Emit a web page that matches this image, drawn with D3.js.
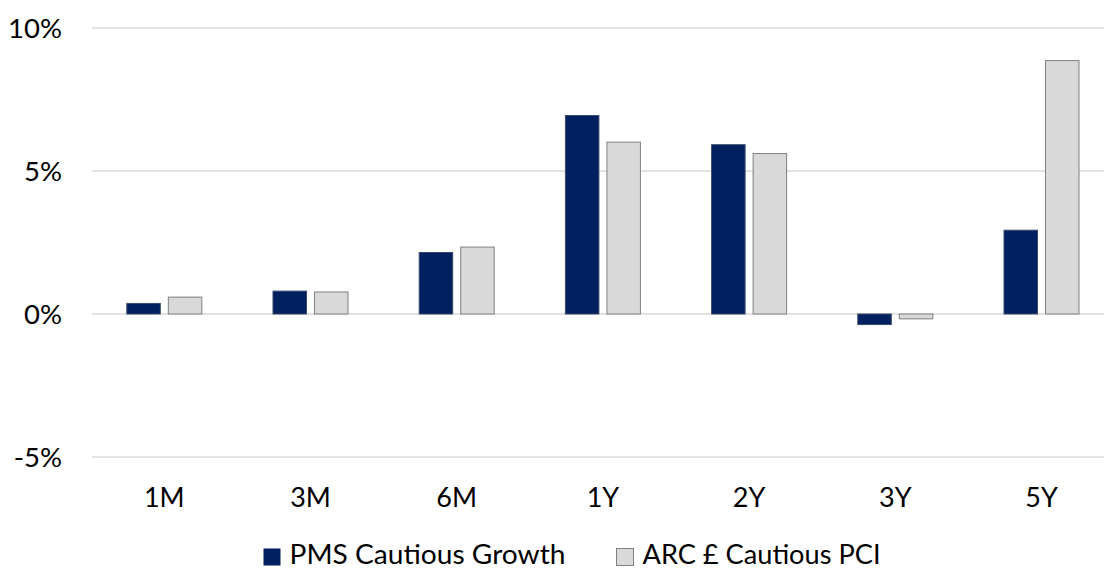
<!DOCTYPE html>
<html>
<head>
<meta charset="utf-8">
<script src="https://cdn.jsdelivr.net/npm/d3@7"></script>
<style>
  html, body { margin: 0; padding: 0; background: #fff; }
  svg { display: block; font-family: Lato, "Open Sans", sans-serif; }
</style>
</head>
<body>
<div class="chart"></div>
<script>
// periods on the x axis
const periods = ['1M', '3M', '6M', '1Y', '2Y', '3Y', '5Y'];
// series names
const seriesNames = ['PMS Cautious Growth', 'ARC £ Cautious PCI'];
// returns in %
const pmsValues = [0.37, 0.80, 2.15, 6.94, 5.92, -0.37, 2.93];
const arcValues = [0.59, 0.77, 2.34, 6.01, 5.61, -0.17, 8.86];
// y ticks
const yTicks = [-5, 0, 5, 10];

const colors = { 'PMS Cautious Growth': '#002060', 'ARC £ Cautious PCI': '#d9d9d9' };

const width = 1104;
const height = 569;

const svg = d3.select('.chart')
  .append('svg')
  .attr('width', width)
  .attr('height', height);

const x0 = d3.scaleBand()
  .domain(periods)
  .range([91.2, 1114.6])
  .paddingInner(0.487)
  .paddingOuter(0.2435);

const x1 = d3.scaleBand()
  .domain(seriesNames)
  .range([0, x0.bandwidth()])
  .paddingInner(0.193);

const y = d3.scaleLinear()
  .domain([-5, 10])
  .range([457, 28]);

// gridlines
svg.append('g')
  .selectAll('line')
  .data(yTicks)
  .join('line')
  .attr('x1', 92)
  .attr('x2', width)
  .attr('y1', d => y(d))
  .attr('y2', d => y(d))
  .attr('stroke', '#d9d9d9')
  .attr('stroke-width', 1.5);

// y axis labels
const yAxis = d3.axisLeft(y)
  .tickValues(yTicks)
  .tickFormat(d => d + '%')
  .tickSize(0)
  .tickPadding(0);

svg.append('g')
  .attr('transform', 'translate(62, 0)')
  .call(yAxis)
  .call(g => g.select('.domain').remove())
  .selectAll('text')
  .attr('font-size', 27.5)
  .attr('font-family', 'Lato, sans-serif')
  .attr('fill', '#000')
  .attr('dy', '0.35em');

// x axis labels
const xAxis = d3.axisBottom(x0).tickSize(0).tickPadding(0);
svg.append('g')
  .attr('transform', 'translate(0, 487.5)')
  .call(xAxis)
  .call(g => g.select('.domain').remove())
  .selectAll('text')
  .attr('font-size', 27)
  .attr('font-family', 'Lato, sans-serif')
  .attr('fill', '#000')
  .attr('dy', '0.72em');

// bars
const rows = periods.map((p, i) => ({
  period: p,
  values: [
    { name: seriesNames[0], value: pmsValues[i] },
    { name: seriesNames[1], value: arcValues[i] }
  ]
}));

svg.append('g')
  .selectAll('g')
  .data(rows)
  .join('g')
  .attr('transform', d => `translate(${x0(d.period)}, 0)`)
  .selectAll('rect')
  .data(d => d.values)
  .join('rect')
  .attr('x', d => x1(d.name))
  .attr('width', x1.bandwidth())
  .attr('y', d => y(Math.max(0, d.value)))
  .attr('height', d => Math.abs(y(d.value) - y(0)))
  .attr('fill', d => colors[d.name])
  .attr('stroke', d => d.name === seriesNames[0] ? '#3a4a6a' : '#808080')
  .attr('stroke-width', 1);

// legend (Calibri in the original, so fit text to its measured width)
const legendX = [263.5, 616.5];
const legendTextWidth = [276, 238];
const legend = svg.append('g')
  .selectAll('g')
  .data(seriesNames)
  .join('g')
  .attr('transform', (d, i) => `translate(${legendX[i]}, 548.5)`);

legend.append('rect')
  .attr('width', 17)
  .attr('height', 17)
  .attr('fill', d => colors[d])
  .attr('stroke', d => d === seriesNames[0] ? 'none' : '#808080')
  .attr('stroke-width', 1);

legend.append('text')
  .attr('x', 26)
  .attr('y', 15.5)
  .attr('font-size', 26)
  .attr('fill', '#000')
  .attr('textLength', (d, i) => legendTextWidth[i])
  .attr('lengthAdjust', 'spacingAndGlyphs')
  .text(d => d);
</script>
</body>
</html>
